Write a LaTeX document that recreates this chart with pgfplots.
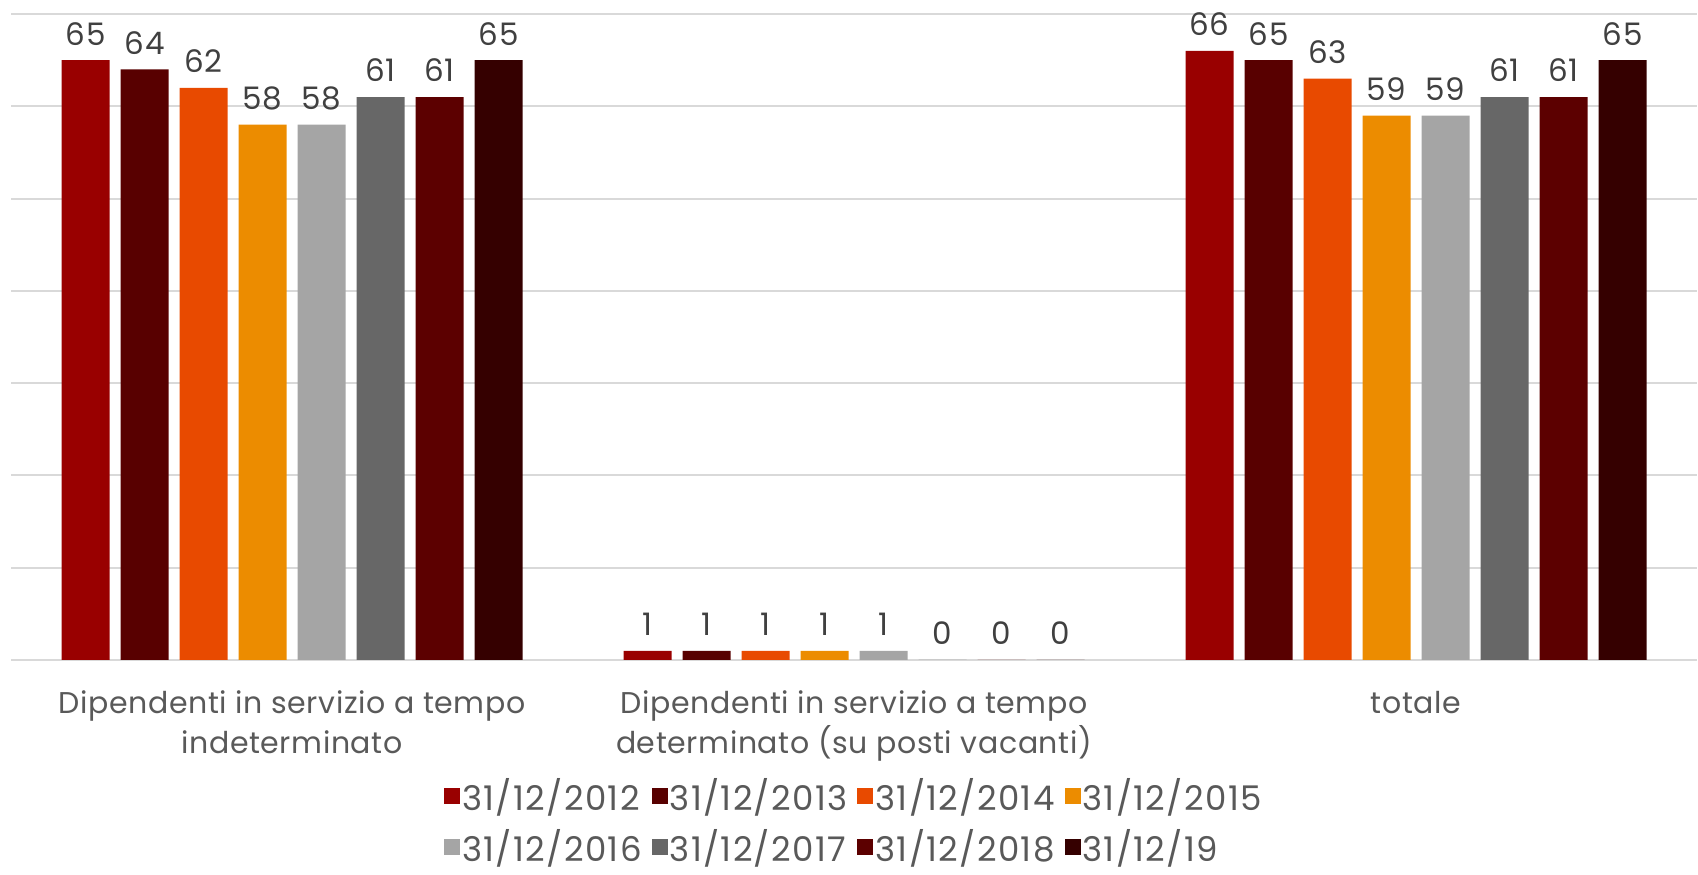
\documentclass[border=0pt]{standalone}
\usepackage{fontspec}
\setmainfont{Poppins}
\usepackage{pgfplots}
\pgfplotsset{compat=1.18}
\usetikzlibrary{calc}
\definecolor{c12}{HTML}{990000}
\definecolor{c13}{HTML}{580000}
\definecolor{c14}{HTML}{E84A00}
\definecolor{c15}{HTML}{EC8C00}
\definecolor{c16}{HTML}{A5A5A5}
\definecolor{c17}{HTML}{676767}
\definecolor{c18}{HTML}{5C0000}
\definecolor{c19}{HTML}{350000}
\definecolor{gridc}{HTML}{D9D9D9}
\definecolor{txt}{HTML}{595959}
\definecolor{lbl}{HTML}{404040}

\begin{document}
\begin{tikzpicture}
\begin{axis}[
  name=ax,
  scale only axis,
  width=843pt, height=323pt,
  ybar=5.5pt, bar width=24pt,
  xmin=-0.5, xmax=2.5,
  ymin=0, ymax=70, ytick={0,10,...,70},
  yticklabels={},
  ymajorgrids,
  major grid style={draw=gridc, line width=1pt},
  axis line style={draw=none},
  major tick length=0pt,
  xtick={0,1,2},
  xticklabels={{Dipendenti in servizio a tempo\\indeterminato},
               {Dipendenti in servizio a tempo\\determinato (su posti vacanti)},
               {totale}},
  xticklabel style={align=center, text=txt,
    font=\fontsize{15}{20}\selectfont\addfontfeatures{LetterSpace=2}, yshift=-12pt},
  /pgf/number format/assume math mode=true,
  nodes near coords,
  every node near coord/.append style={font=\fontsize{15.5}{18}\selectfont\addfontfeatures{LetterSpace=3},
    text=lbl, yshift=4pt},
  legend columns=4,
  legend cell align=left,
  legend style={at={(0.5,0)}, anchor=north, yshift=-55pt, draw=none, fill=none,
    font=\fontsize{17}{19}\selectfont\addfontfeatures{LetterSpace=4}, text=txt,
    /tikz/every even column/.append style={column sep=4pt},
    /tikz/every odd column/.append style={column sep=0pt},
    nodes={inner xsep=1pt},
    row sep=4pt},
  legend image code/.code={\fill[#1] (0pt,-4pt) rectangle (8pt,4pt);},
]
\addplot[fill=c12, draw=none] coordinates {(0,65) (1,1) (2,66)};
\addplot[fill=c13, draw=none] coordinates {(0,64) (1,1) (2,65)};
\addplot[fill=c14, draw=none] coordinates {(0,62) (1,1) (2,63)};
\addplot[fill=c15, draw=none] coordinates {(0,58) (1,1) (2,59)};
\addplot[fill=c16, draw=none] coordinates {(0,58) (1,1) (2,59)};
\addplot[fill=c17, draw=none] coordinates {(0,61) (1,0) (2,61)};
\addplot[fill=c18, draw=none] coordinates {(0,61) (1,0) (2,61)};
\addplot[fill=c19, draw=none] coordinates {(0,65) (1,0) (2,65)};
\legend{31/12/2012, 31/12/2013, 31/12/2014, 31/12/2015,
        31/12/2016, 31/12/2017, 31/12/2018, 31/12/19}
\end{axis}
\pgfresetboundingbox
\path ($(ax.south west)+(-5.5pt,-107.5pt)$) rectangle ($(ax.north east)+(0.5pt,7pt)$);
\end{tikzpicture}
\end{document}
